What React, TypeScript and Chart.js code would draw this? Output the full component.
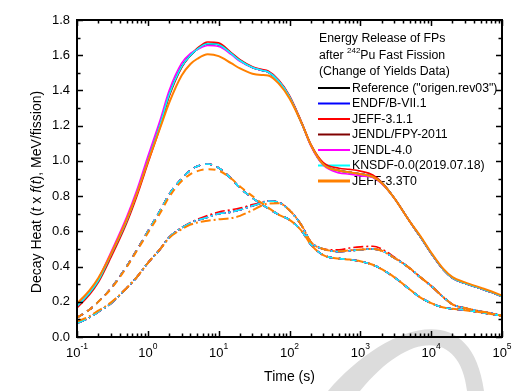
import React, { useEffect, useRef } from 'react';
import { Chart, registerables } from 'chart.js';
Chart.register(...registerables);

// ---- data ----
const times = [0.1, 0.15, 0.2, 0.3, 0.5, 0.7, 1, 1.5, 2, 3, 4, 5, 7, 10, 15, 20, 30, 40, 50, 70, 100, 150, 200, 300, 500, 700, 1000, 1500, 2000, 3000, 5000, 7000, 10000, 15000, 20000, 30000, 50000, 70000, 100000];

// total (solid)
const totalRef = [0.175, 0.25, 0.32, 0.465, 0.658, 0.815, 1.0, 1.21, 1.375, 1.535, 1.6, 1.635, 1.665, 1.66, 1.61, 1.57, 1.53, 1.515, 1.505, 1.455, 1.365, 1.21, 1.09, 0.98, 0.945, 0.935, 0.925, 0.91, 0.875, 0.79, 0.655, 0.57, 0.475, 0.38, 0.335, 0.305, 0.275, 0.255, 0.23];
const totalJeff311 = [0.165, 0.24, 0.31, 0.45, 0.645, 0.8, 0.985, 1.195, 1.365, 1.53, 1.6, 1.64, 1.675, 1.67, 1.615, 1.575, 1.535, 1.52, 1.51, 1.46, 1.37, 1.215, 1.095, 0.99, 0.958, 0.952, 0.942, 0.92, 0.88, 0.79, 0.655, 0.57, 0.475, 0.38, 0.335, 0.305, 0.275, 0.255, 0.23];
const totalJendl40 = [0.175, 0.255, 0.33, 0.48, 0.68, 0.835, 1.025, 1.235, 1.4, 1.555, 1.61, 1.632, 1.655, 1.65, 1.605, 1.565, 1.53, 1.515, 1.505, 1.455, 1.365, 1.21, 1.085, 0.975, 0.932, 0.925, 0.915, 0.905, 0.87, 0.79, 0.655, 0.57, 0.475, 0.38, 0.335, 0.305, 0.275, 0.255, 0.23];
const totalJeff33 = [0.19, 0.265, 0.335, 0.47, 0.665, 0.815, 0.995, 1.19, 1.33, 1.485, 1.55, 1.58, 1.605, 1.595, 1.555, 1.525, 1.495, 1.488, 1.485, 1.44, 1.355, 1.21, 1.09, 0.98, 0.945, 0.935, 0.925, 0.91, 0.875, 0.79, 0.655, 0.575, 0.48, 0.385, 0.34, 0.31, 0.28, 0.26, 0.235];

// beta-like component (dashed)
const betaRef = [0.11, 0.155, 0.2, 0.275, 0.4, 0.495, 0.6, 0.72, 0.81, 0.9, 0.947, 0.97, 0.982, 0.96, 0.9, 0.846, 0.79, 0.755, 0.73, 0.695, 0.665, 0.6, 0.525, 0.465, 0.445, 0.44, 0.43, 0.41, 0.385, 0.34, 0.27, 0.225, 0.192, 0.167, 0.16, 0.152, 0.14, 0.13, 0.12];
const betaJeff33 = [0.11, 0.155, 0.2, 0.272, 0.395, 0.49, 0.59, 0.705, 0.795, 0.885, 0.925, 0.942, 0.953, 0.945, 0.9, 0.855, 0.8, 0.762, 0.735, 0.695, 0.665, 0.6, 0.525, 0.465, 0.445, 0.44, 0.43, 0.41, 0.385, 0.34, 0.27, 0.225, 0.192, 0.167, 0.16, 0.152, 0.14, 0.13, 0.12];

// gamma-like component (dash-dot)
const gammaRef = [0.078, 0.11, 0.143, 0.19, 0.277, 0.34, 0.42, 0.5, 0.566, 0.62, 0.648, 0.663, 0.68, 0.7, 0.71, 0.722, 0.745, 0.76, 0.772, 0.765, 0.72, 0.63, 0.54, 0.5, 0.485, 0.49, 0.495, 0.5, 0.49, 0.45, 0.39, 0.34, 0.29, 0.225, 0.185, 0.165, 0.145, 0.135, 0.12];
const gammaJeff311 = [0.078, 0.11, 0.143, 0.19, 0.277, 0.34, 0.42, 0.5, 0.566, 0.62, 0.65, 0.668, 0.69, 0.71, 0.722, 0.732, 0.752, 0.765, 0.774, 0.765, 0.72, 0.63, 0.54, 0.5, 0.495, 0.505, 0.512, 0.515, 0.5, 0.455, 0.39, 0.34, 0.29, 0.225, 0.185, 0.165, 0.145, 0.135, 0.12];
const gammaJeff33 = [0.088, 0.118, 0.15, 0.195, 0.277, 0.34, 0.42, 0.5, 0.562, 0.612, 0.638, 0.65, 0.66, 0.668, 0.675, 0.688, 0.72, 0.745, 0.758, 0.76, 0.72, 0.63, 0.54, 0.5, 0.487, 0.492, 0.497, 0.5, 0.49, 0.45, 0.39, 0.34, 0.29, 0.225, 0.185, 0.165, 0.145, 0.135, 0.12];

const seriesNames = ['Reference ("origen.rev03")', 'ENDF/B-VII.1', 'JEFF-3.1.1', 'JENDL/FPY-2011', 'JENDL-4.0', 'KNSDF-0.0(2019.07.18)', 'JEFF-3.3T0'];
const seriesColors = ['#000000', '#0000ff', '#ff0000', '#800000', '#ff00ff', '#00ffff', '#ff8000'];
const seriesTotals = [totalRef, totalRef, totalJeff311, totalRef, totalJendl40, totalRef, totalJeff33];
const seriesBetas = [betaRef, betaRef, betaRef, betaRef, betaRef, betaRef, betaJeff33];
const seriesGammas = [gammaRef, gammaRef, gammaJeff311, gammaRef, gammaRef, gammaRef, gammaJeff33];

const xDecades = [-1, 0, 1, 2, 3, 4, 5];
const xExpLabels = ['-1', '0', '1', '2', '3', '4', '5'];
const yTicks = [0, 0.2, 0.4, 0.6, 0.8, 1.0, 1.2, 1.4, 1.6, 1.8];
const yTickLabels = ['0.0', '0.2', '0.4', '0.6', '0.8', '1.0', '1.2', '1.4', '1.6', '1.8'];
const legendTitle1 = 'Energy Release of FPs';
const legendTitle2a = 'after ';
const legendTitle2sup = '242';
const legendTitle2b = 'Pu Fast Fission';
const legendTitle3 = '(Change of Yields Data)';
const xTitle = 'Time (s)';

const FONT = '"Liberation Sans", Arial, sans-serif';
const LFS = 12.3;

const decorPlugin = {
  id: 'decor',
  beforeDraw(chart: any) {
    const ctx = chart.ctx;
    ctx.save();
    ctx.fillStyle = '#ffffff';
    ctx.fillRect(0, 0, chart.width, chart.height);
    // light grey watermark crescent
    ctx.fillStyle = '#dcdcdc';
    ctx.beginPath();
    ctx.moveTo(328, 391);
    ctx.bezierCurveTo(380, 330, 470, 290, 484, 391);
    ctx.lineTo(467, 391);
    ctx.bezierCurveTo(460, 330, 410, 330, 360, 391);
    ctx.closePath();
    ctx.fill();
    ctx.restore();
  },
  beforeDatasetsDraw(chart: any) {
    const ctx = chart.ctx;
    ctx.save();
    ctx.fillStyle = '#000';
    ctx.textBaseline = 'middle';
    ctx.textAlign = 'left';
    const lx = 319;
    ctx.font = `${LFS}px ${FONT}`;
    ctx.fillText(legendTitle1, lx, 39);
    ctx.fillText(legendTitle2a, lx, 56);
    let x = lx + ctx.measureText(legendTitle2a).width;
    ctx.font = `8px ${FONT}`;
    ctx.fillText(legendTitle2sup, x, 51);
    x += ctx.measureText(legendTitle2sup).width;
    ctx.font = `${LFS}px ${FONT}`;
    ctx.fillText(legendTitle2b, x, 56);
    ctx.fillText(legendTitle3, lx, 72);
    const ys = [88, 103.5, 119, 134.5, 150, 165.5, 181];
    seriesNames.forEach((name, i) => {
      const y = ys[i];
      ctx.strokeStyle = seriesColors[i];
      ctx.lineWidth = i === 6 ? 3 : 2;
      ctx.setLineDash([]);
      ctx.beginPath();
      ctx.moveTo(318, y);
      ctx.lineTo(350, y);
      ctx.stroke();
      ctx.fillStyle = '#000';
      ctx.fillText(name, 352, y + 0.5);
    });
    ctx.restore();
  },
  afterDraw(chart: any) {
    const ctx = chart.ctx;
    const a = chart.chartArea;
    const xs = chart.scales.x;
    const ysc = chart.scales.y;
    ctx.save();
    ctx.setLineDash([]);
    ctx.strokeStyle = '#000';
    // ticks
    ctx.lineWidth = 1.5;
    ctx.beginPath();
    const major = 6, minor = 3.5;
    for (let d = -1; d <= 5; d++) {
      for (let m = 1; m <= 9; m++) {
        if (d === 5 && m > 1) break;
        const v = m * Math.pow(10, d);
        const px = Math.round(xs.getPixelForValue(v)) + 0.5;
        const L = m === 1 ? major : minor;
        ctx.moveTo(px, a.bottom); ctx.lineTo(px, a.bottom - L);
        ctx.moveTo(px, a.top); ctx.lineTo(px, a.top + L);
      }
    }
    for (let k = 0; k <= 18; k++) {
      const v = k / 10;
      const py = Math.round(ysc.getPixelForValue(v)) + 0.5;
      const L = k % 2 === 0 ? major : minor;
      ctx.moveTo(a.left, py); ctx.lineTo(a.left + L, py);
      ctx.moveTo(a.right, py); ctx.lineTo(a.right - L, py);
    }
    ctx.stroke();
    // frame
    ctx.lineWidth = 2;
    ctx.strokeRect(a.left, a.top, a.right - a.left, a.bottom - a.top);
    // y labels
    ctx.fillStyle = '#000';
    ctx.font = `13px ${FONT}`;
    ctx.textAlign = 'right';
    ctx.textBaseline = 'middle';
    yTicks.forEach((v, i) => {
      ctx.fillText(yTickLabels[i], 70, ysc.getPixelForValue(v));
    });
    // x labels
    ctx.textAlign = 'left';
    ctx.textBaseline = 'alphabetic';
    xDecades.forEach((d, i) => {
      const px = xs.getPixelForValue(Math.pow(10, d));
      ctx.font = `13px ${FONT}`;
      const w1 = ctx.measureText('10').width;
      ctx.font = `8.5px ${FONT}`;
      const w2 = ctx.measureText(xExpLabels[i]).width;
      const start = px - (w1 + w2) / 2;
      ctx.font = `13px ${FONT}`;
      ctx.fillText('10', start, 357);
      ctx.font = `8.5px ${FONT}`;
      ctx.fillText(xExpLabels[i], start + w1, 349);
    });
    // x title
    ctx.font = `14px ${FONT}`;
    ctx.textAlign = 'center';
    ctx.textBaseline = 'middle';
    ctx.fillText(xTitle, (a.left + a.right) / 2, 377);
    // y title with italics
    const segs: [string, boolean][] = [['Decay Heat (', false], ['t', true], [' x ', false], ['f', true], ['(', false], ['t', true], ['), MeV/fission)', false]];
    const fontFor = (it: boolean) => `${it ? 'italic ' : ''}14px ${FONT}`;
    let total = 0;
    segs.forEach(([s, it]) => { ctx.font = fontFor(it); total += ctx.measureText(s).width; });
    ctx.translate(37, 192);
    ctx.rotate(-Math.PI / 2);
    ctx.textAlign = 'left';
    let x = -total / 2;
    segs.forEach(([s, it]) => {
      ctx.font = fontFor(it);
      ctx.fillText(s, x, 0);
      x += ctx.measureText(s).width;
    });
    ctx.restore();
  },
};

export default function App() {
  const ref = useRef<HTMLCanvasElement | null>(null);
  useEffect(() => {
    document.body.style.margin = '0';
    const datasets: any[] = [];
    seriesNames.forEach((name, i) => {
      const common = {
        borderColor: seriesColors[i],
        backgroundColor: seriesColors[i],
        borderWidth: i === 6 ? 2 : 1.6,
        pointRadius: 0,
        fill: false,
        cubicInterpolationMode: 'monotone',
        order: 6 - i,
      };
      datasets.push({ ...common, label: name + ' total', data: times.map((t, k) => ({ x: t, y: seriesTotals[i][k] })) });
      datasets.push({ ...common, label: name + ' dashed', borderDash: [7, 5], data: times.map((t, k) => ({ x: t, y: seriesBetas[i][k] })) });
      datasets.push({ ...common, label: name + ' dash-dot', borderDash: [10, 3, 2, 3], data: times.map((t, k) => ({ x: t, y: seriesGammas[i][k] })) });
    });
    const chart = new Chart(ref.current!, {
      type: 'line',
      data: { datasets },
      options: {
        animation: false,
        responsive: false,
        devicePixelRatio: 1,
        layout: { padding: { left: 77, right: 11, top: 20, bottom: 54 } },
        scales: {
          x: { type: 'logarithmic', min: 0.1, max: 100000, display: false },
          y: { type: 'linear', min: 0, max: 1.8, display: false },
        },
        plugins: { legend: { display: false }, tooltip: { enabled: false } },
      },
      plugins: [decorPlugin],
    } as any);
    return () => chart.destroy();
  }, []);
  return <canvas ref={ref} width={513} height={391} style={{ display: 'block' }} />;
}
